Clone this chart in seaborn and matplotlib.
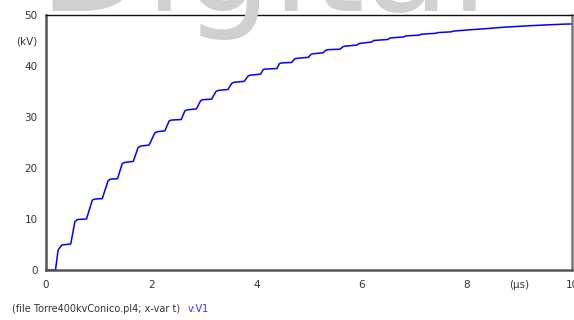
import matplotlib
matplotlib.use("Agg")
import matplotlib.pyplot as plt
import seaborn as sns
import pandas as pd

# time (us) and voltage (kV)
t_us = [0.0, 0.18, 0.23, 0.30, 0.47, 0.55, 0.60, 0.77, 0.88, 0.92, 1.07, 1.18, 1.22,
        1.36, 1.45, 1.50, 1.66, 1.75, 1.80, 1.96, 2.07, 2.11, 2.26, 2.34, 2.38, 2.57,
        2.64, 2.68, 2.86, 2.94, 2.98, 3.15, 3.23, 3.27, 3.46, 3.53, 3.57, 3.77, 3.84,
        3.88, 4.08, 4.13, 4.17, 4.39, 4.44, 4.48, 4.67, 4.73, 4.77, 4.99, 5.04, 5.08,
        5.27, 5.32, 5.36, 5.59, 5.65, 5.69, 5.91, 5.95, 6.19, 6.23, 6.50, 6.54, 6.80,
        6.84, 7.10, 7.14, 7.40, 7.45, 7.70, 7.75, 8.06, 8.40, 8.70, 9.20, 9.50, 9.83, 10.0]
v_kv = [0.0, 0.0, 3.9, 4.9, 5.1, 9.5, 9.9, 10.0, 13.7, 13.9, 14.0, 17.5, 17.8,
        17.9, 20.9, 21.1, 21.3, 24.0, 24.3, 24.5, 26.9, 27.1, 27.3, 29.2, 29.4, 29.5,
        31.2, 31.4, 31.6, 33.2, 33.4, 33.5, 35.0, 35.2, 35.4, 36.6, 36.8, 37.0, 38.0,
        38.2, 38.4, 39.3, 39.4, 39.5, 40.5, 40.6, 40.7, 41.4, 41.5, 41.7, 42.3, 42.4,
        42.6, 43.1, 43.2, 43.3, 43.8, 43.9, 44.1, 44.4, 44.7, 45.0, 45.2, 45.5, 45.7,
        45.9, 46.05, 46.25, 46.4, 46.55, 46.7, 46.85, 47.1, 47.35, 47.6, 47.9, 48.05, 48.2, 48.25]

y_ticks = [0, 5, 10, 15, 20, 25, 30, 35, 40, 45, 50]
y_labels = ["0", "", "10", "", "20", "", "30", "", "40", "(kV)", "50"]
x_ticks = [0, 1, 2, 3, 4, 5, 6, 7, 8, 9, 10]
x_labels = ["0", "", "2", "", "4", "", "6", "", "8", "(\u00b5s)", "10"]

df = pd.DataFrame({"t": t_us, "v": v_kv})

sns.set_style("white")
plt.rcParams["font.family"] = ["DejaVu Sans"]

fig = plt.figure(figsize=(5.74, 3.2), dpi=100)
ax = fig.add_axes([46 / 574, 50 / 320, 526 / 574, 255 / 320])

sns.lineplot(data=df, x="t", y="v", ax=ax, color="#0000ff", linewidth=1.1,
             estimator=None, sort=False)

ax.set_xlim(0, 10)
ax.set_ylim(0, 50)
ax.set_xlabel("")
ax.set_ylabel("")
ax.set_yticks(y_ticks)
ax.set_yticklabels(y_labels)
ax.set_xticks(x_ticks)
ax.set_xticklabels(x_labels)
ax.tick_params(axis="both", direction="out", length=4, width=1.2, color="#333333",
               labelsize=7.5, labelcolor="#333333", pad=2)
ax.tick_params(axis="x", pad=3)

for side in ["left", "bottom"]:
    ax.spines[side].set_color("#555555")
    ax.spines[side].set_linewidth(1.8)
ax.spines["top"].set_color("#111111")
ax.spines["top"].set_linewidth(1.0)
ax.spines["right"].set_color("#777777")
ax.spines["right"].set_linewidth(1.8)
for s in ax.spines.values():
    s.set_visible(True)

# faint watermark at the top, mostly cut off
fig.text(0.46, 0.966, "Digital", fontsize=100, color="#d0d0d0", ha="center",
         va="baseline", zorder=0)

foot = fig.text(12 / 574, 1 - 309 / 320, "(file Torre400kvConico.pl4; x-var t)",
                fontsize=7, color="#333333", va="center", ha="left")
fig.canvas.draw()
bb = foot.get_window_extent(renderer=fig.canvas.get_renderer())
fig.text((bb.x1 + 8) / 574, 1 - 309 / 320, "v:V1", fontsize=7, color="#3333ff",
         va="center", ha="left")

fig.savefig("out.png", dpi=100)
